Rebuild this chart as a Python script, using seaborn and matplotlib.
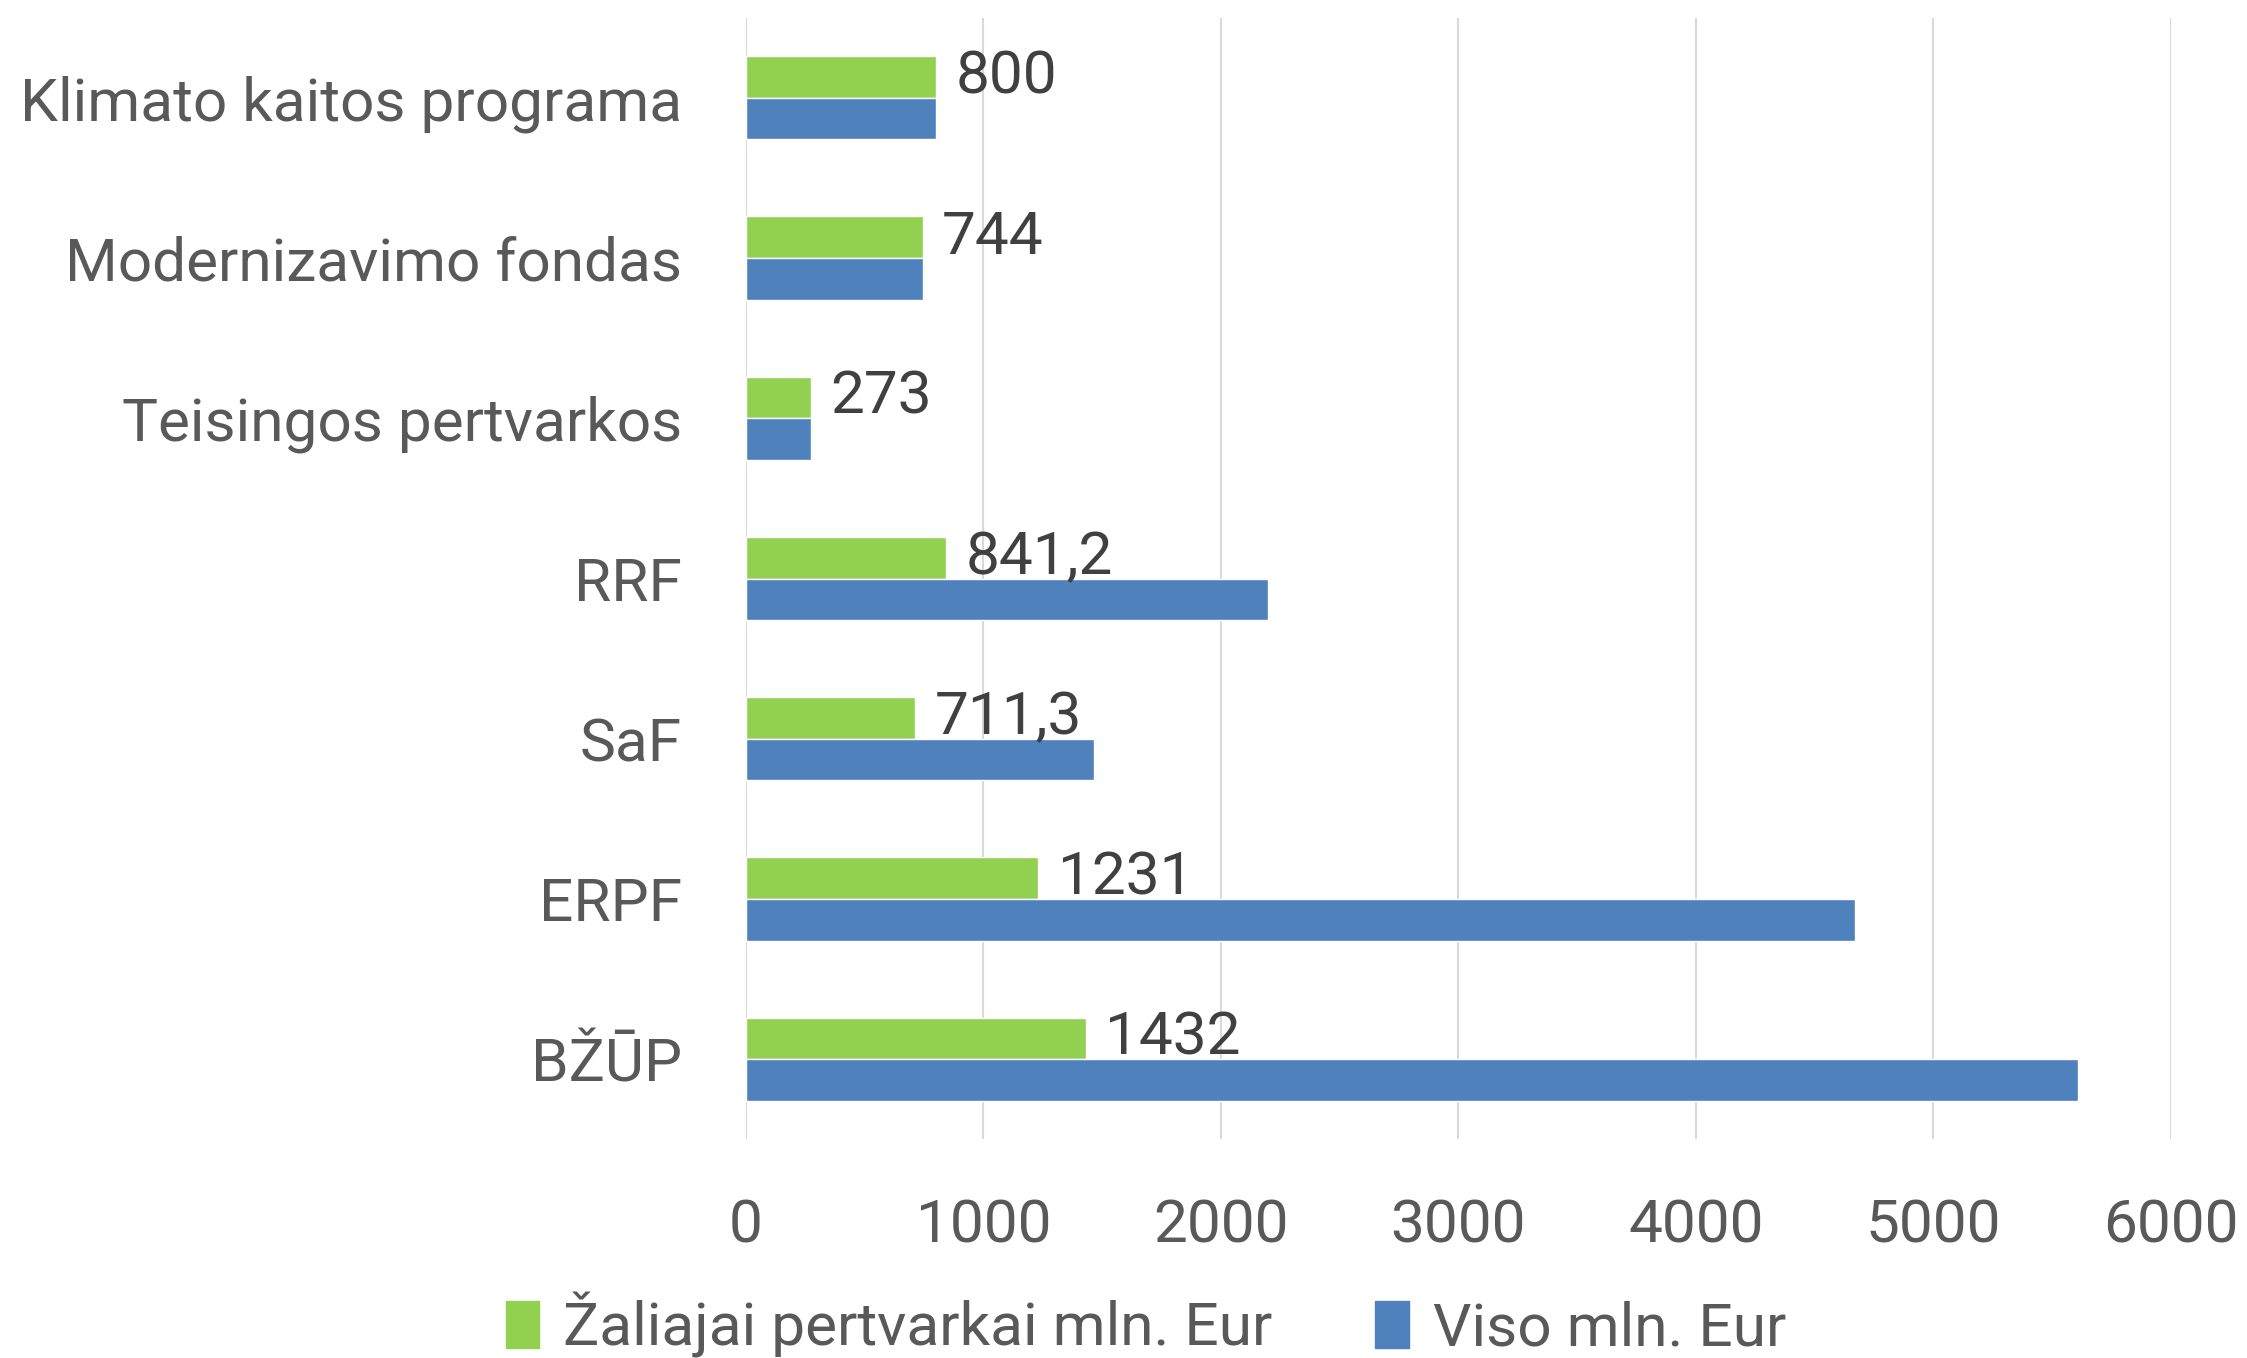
import numpy as np
import pandas as pd
import seaborn as sns
import matplotlib.pyplot as plt
from matplotlib.patches import Patch

categories = ['Klimato kaitos programa', 'Modernizavimo fondas', 'Teisingos pertvarkos',
              'RRF', 'SaF', 'ERPF', 'BŽŪP']
green_vals = [800, 744, 273, 841.2, 711.3, 1231, 1432]
blue_vals = [800, 744, 273, 2200, 1465, 4670, 5608]
green_labels = ['800', '744', '273', '841,2', '711,3', '1231', '1432']
series = ['Žaliajai pertvarkai mln. Eur', 'Viso mln. Eur']
xticks = [0, 1000, 2000, 3000, 4000, 5000, 6000]

df = pd.DataFrame({
    'cat': categories * 2,
    'val': green_vals + blue_vals,
    'series': [series[0]] * len(categories) + [series[1]] * len(categories),
})

sns.set_style('white')
plt.rcParams['font.family'] = ['Roboto', 'DejaVu Sans']
txt = '#595959'
fs = 43.5

fig = plt.figure(figsize=(22.47, 13.58), dpi=100)
ax = fig.add_axes([0.332, 0.161, 0.634, 0.826])

sns.barplot(data=df, y='cat', x='val', hue='series', order=categories, hue_order=series,
            palette=['#92D050', '#4F81BD'], orient='h', width=0.52, saturation=1,
            legend=False, ax=ax)

ax.bar_label(ax.containers[0], labels=green_labels, padding=14, fontsize=fs, color='#404040')

ax.set_xlim(0, 6000)
ax.set_ylim(6.5, -0.5)
ax.set_xticks(xticks)
ax.set_xticklabels([str(t) for t in xticks])
ax.grid(axis='x', color='#D9D9D9', linewidth=1.5)
ax.grid(axis='y', visible=False)
ax.set_axisbelow(True)
for s in ax.spines.values():
    s.set_visible(False)
ax.tick_params(axis='both', length=0, labelsize=fs, labelcolor=txt)
ax.tick_params(axis='x', pad=42)
ax.tick_params(axis='y', pad=46)
ax.set_xlabel('')
ax.set_ylabel('')

handles = [Patch(color='#92D050'), Patch(color='#4F81BD')]
fig.legend(handles, series, loc='lower center', bbox_to_anchor=(0.51, -0.04), ncol=2,
           frameon=False, fontsize=fs, labelcolor=txt, handlelength=0.55, handleheight=0.8,
           handletextpad=0.4, columnspacing=1.7)

fig.savefig('out.png', dpi=100)
